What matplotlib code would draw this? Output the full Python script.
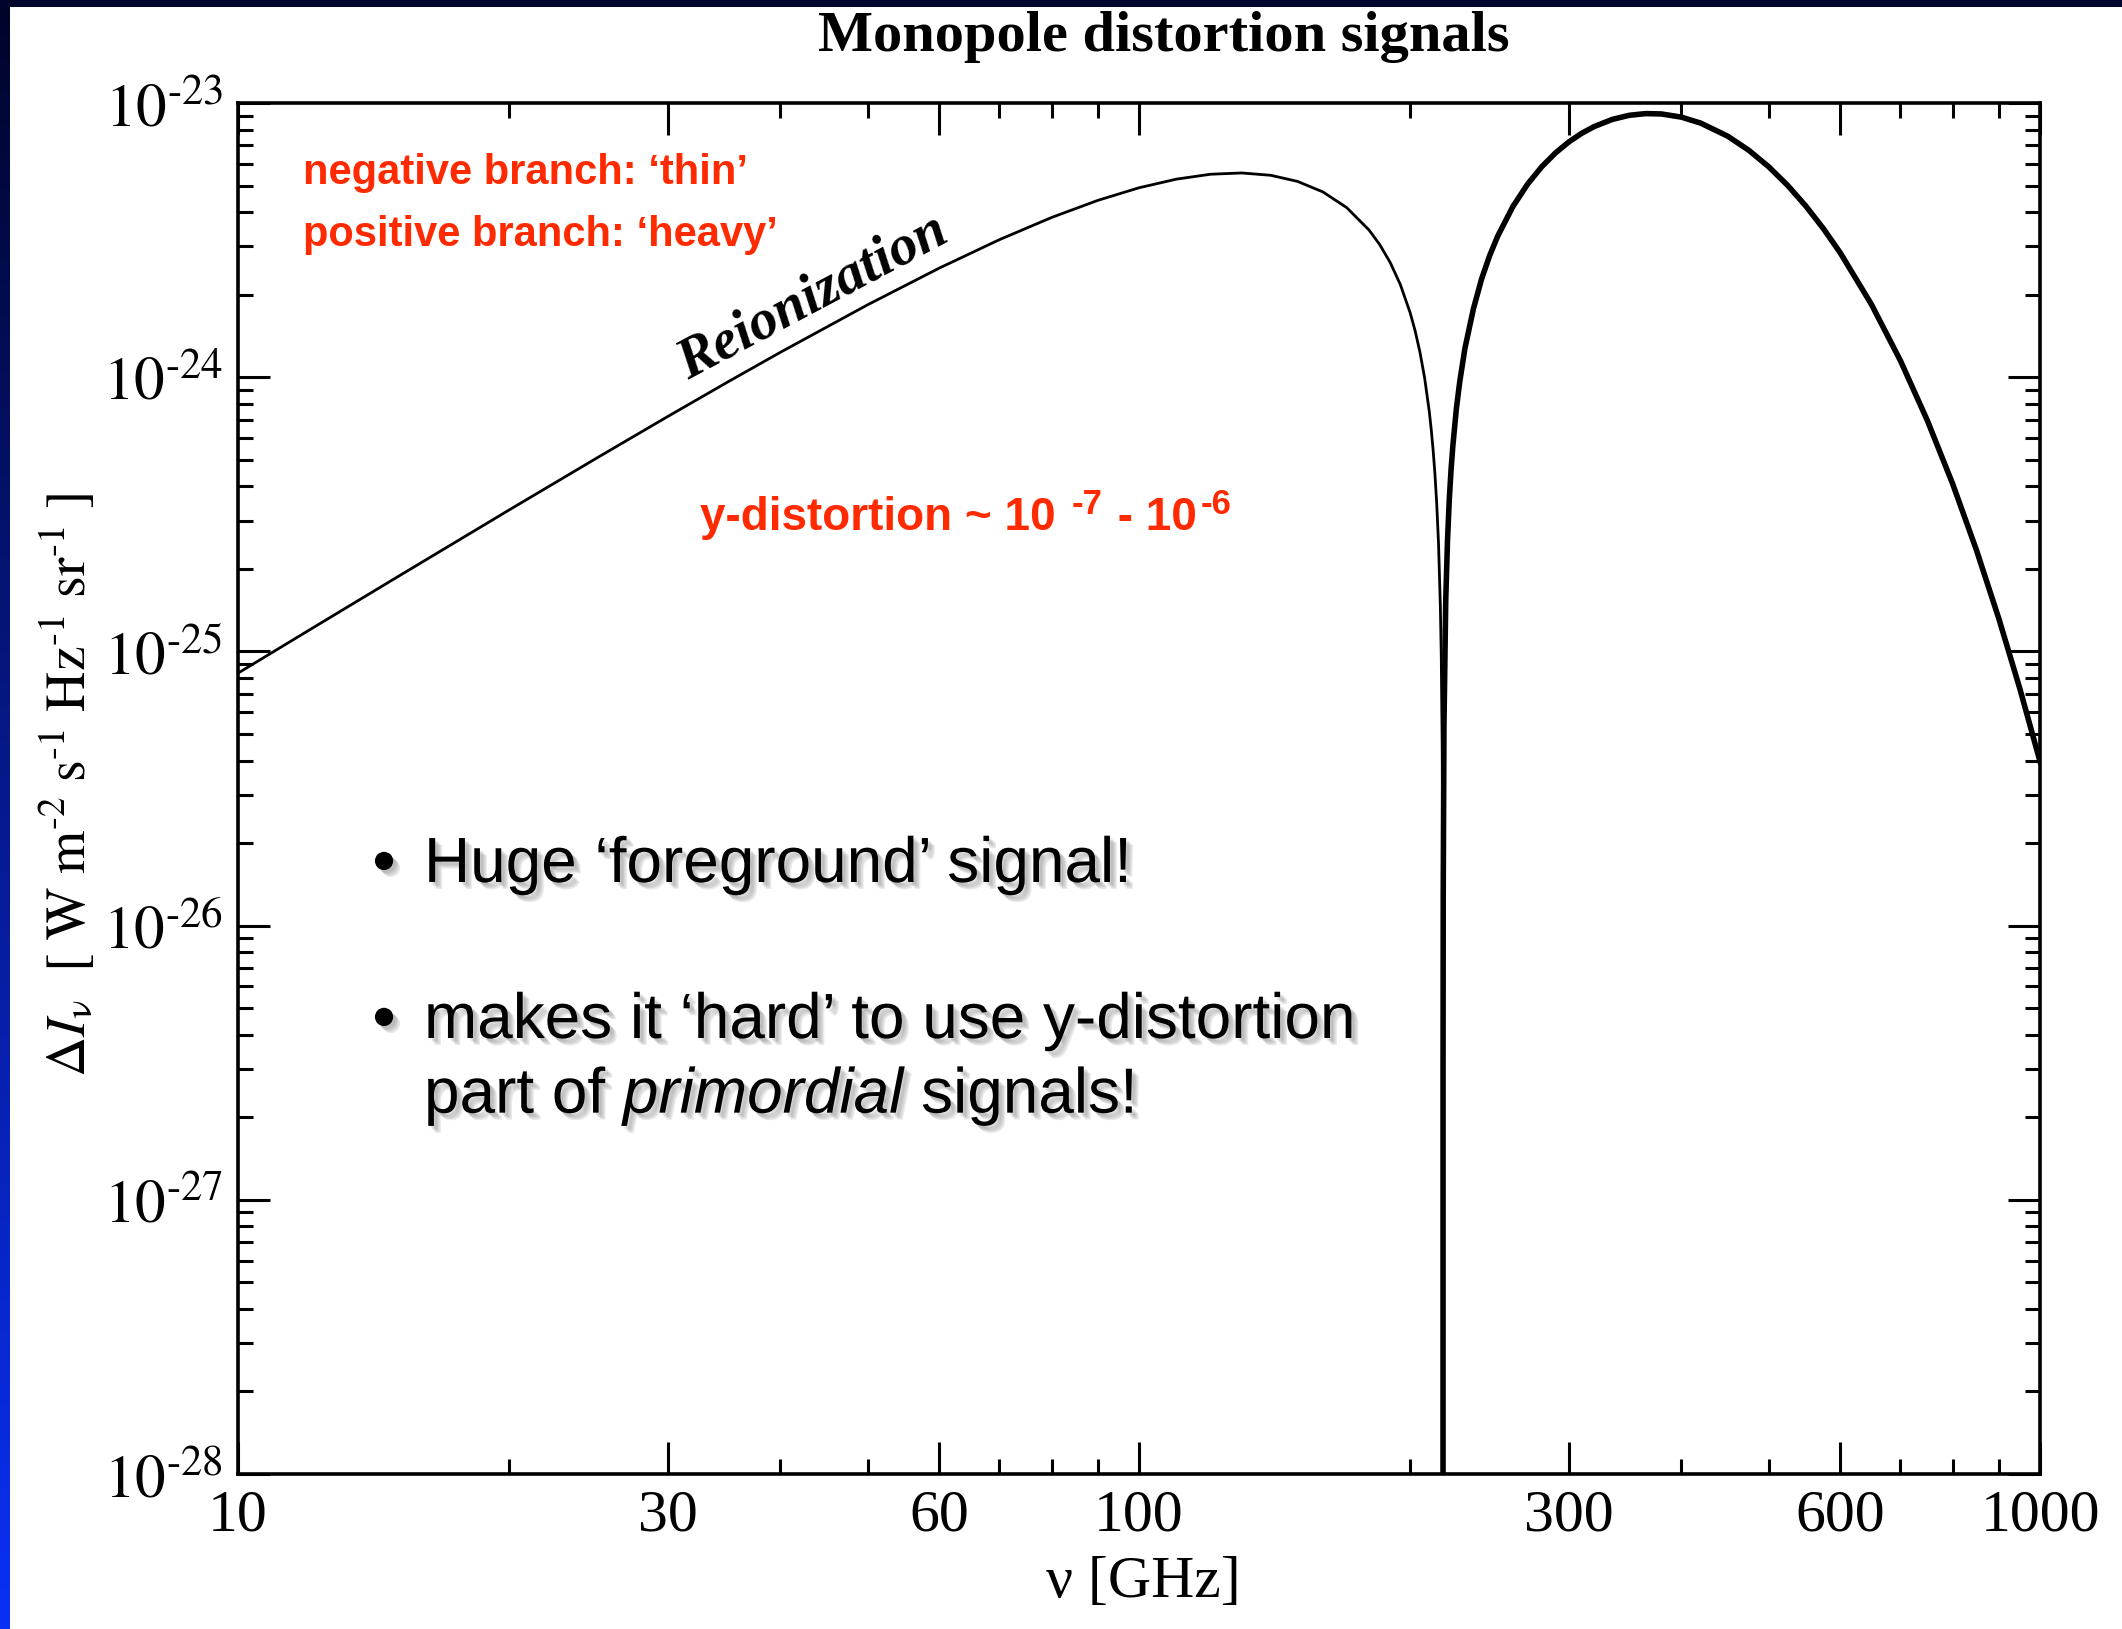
import numpy as np
import matplotlib

matplotlib.use("Agg")
import matplotlib.pyplot as plt
from matplotlib import patheffects
from matplotlib.ticker import FixedLocator, NullFormatter

W, H = 2122, 1629

# |Delta I_nu| of the reionization y-distortion
# negative branch (thin line), nu in GHz, W m^-2 s^-1 Hz^-1 sr^-1
NU_NEG = [10, 12, 15, 20, 25, 30, 35, 40, 50, 60, 70, 80, 90, 100, 110, 120,
          130, 140, 150, 160, 170, 180, 185, 190, 195, 200, 202.5, 205, 207.5,
          210, 211, 212, 213, 214, 215, 216, 216.5, 217, 217.2, 217.4, 217.45,
          217.47]
DI_NEG = [8.33e-26, 1.197e-25, 1.862e-25, 3.281e-25, 5.067e-25, 7.194e-25,
          9.628e-25, 1.233e-24, 1.838e-24, 2.498e-24, 3.174e-24, 3.825e-24,
          4.414e-24, 4.907e-24, 5.275e-24, 5.497e-24, 5.557e-24, 5.450e-24,
          5.175e-24, 4.739e-24, 4.156e-24, 3.443e-24, 3.045e-24, 2.622e-24,
          2.178e-24, 1.715e-24, 1.478e-24, 1.237e-24, 9.938e-25, 7.476e-25,
          6.47e-25, 5.47e-25, 4.47e-25, 3.47e-25, 2.47e-25, 1.47e-25, 9.7e-26,
          4.7e-26, 2.7e-26, 7.0e-27, 2.0e-27, 1.0e-30]
# positive branch (heavy line)
NU_POS = [217.47, 217.5, 217.6, 218, 219, 220, 221, 222, 223, 225, 227, 230,
          235, 240, 245, 250, 260, 270, 280, 290, 300, 310, 320, 335, 350, 365,
          380, 400, 420, 450, 475, 500, 525, 550, 575, 600, 650, 700, 750, 800,
          850, 900, 950, 1000]
DI_POS = [1.0e-30, 3.0e-27, 1.3e-26, 5.3e-26, 1.54e-25, 2.55e-25, 3.59e-25,
          4.6e-25, 5.6e-25, 7.648e-25, 9.65e-25, 1.273e-24, 1.771e-24,
          2.281e-24, 2.775e-24, 3.260e-24, 4.192e-24, 5.064e-24, 5.863e-24,
          6.582e-24, 7.213e-24, 7.754e-24, 8.203e-24, 8.708e-24, 9.017e-24,
          9.149e-24, 9.122e-24, 8.879e-24, 8.450e-24, 7.574e-24, 6.727e-24,
          5.851e-24, 4.997e-24, 4.199e-24, 3.480e-24, 2.847e-24, 1.843e-24,
          1.149e-24, 6.941e-25, 4.081e-25, 2.344e-25, 1.319e-25, 7.294e-26,
          3.969e-26]

X_TICKS = [10, 30, 60, 100, 300, 600, 1000]
X_TICK_LABELS = ["10", "30", "60", "100", "300", "600", "1000"]
X_MINOR = [20, 40, 50, 70, 80, 90, 200, 400, 500, 700, 800, 900]
Y_EXP = [-28, -27, -26, -25, -24, -23]

RED = "#ff2a00"
SERIF = "Liberation Serif"
SANS = "Liberation Sans"

plt.rcParams["mathtext.fontset"] = "stix"
plt.rcParams["mathtext.rm"] = "Liberation Sans"
plt.rcParams["mathtext.it"] = "Liberation Sans:italic"
plt.rcParams["mathtext.bf"] = "Liberation Sans:bold"


def fx(x):
    return x / W


def fy(y):
    return 1 - y / H


fig = plt.figure(figsize=(W / 100, H / 100), dpi=100, facecolor="white")
renderer = fig.canvas.get_renderer()

# slide frame: dark band on top, blue gradient strip on the left
bg = fig.add_axes([0, 0, 1, 1], zorder=-10)
bg.set_xlim(0, W)
bg.set_ylim(H, 0)
bg.axis("off")
top = np.array([0x00, 0x04, 0x2a]) / 255
bot = np.array([0x0a, 0x30, 0xf5]) / 255
t = np.linspace(0, 1, 256)[:, None, None]
grad = top[None, None, :] * (1 - t) + bot[None, None, :] * t
bg.imshow(grad, extent=(0, 10, H, 0), aspect="auto", interpolation="bilinear")
bg.add_patch(plt.Rectangle((0, 0), W, 7, color="#00052c", lw=0))

ax = fig.add_axes([fx(238), fy(1474), fx(2040 - 238), (1474 - 103) / H])
ax.set_xscale("log")
ax.set_yscale("log")
ax.plot(NU_NEG, DI_NEG, color="black", lw=2.0, solid_joinstyle="round")
ax.plot(NU_POS, DI_POS, color="black", lw=4.0, solid_joinstyle="round")
ax.set_xlim(10, 1000)
ax.set_ylim(1e-28, 1e-23)

ax.xaxis.set_major_locator(FixedLocator(X_TICKS))
ax.xaxis.set_minor_locator(FixedLocator(X_MINOR))
ax.set_xticklabels(X_TICK_LABELS, fontfamily=SERIF, fontsize=43)
ax.xaxis.set_minor_formatter(NullFormatter())
ax.yaxis.set_major_locator(FixedLocator([10.0 ** e for e in Y_EXP]))
ax.set_yticklabels([r"$10^{\text{-}%d}$" % -e for e in Y_EXP], fontsize=44)
ax.tick_params(which="both", direction="in", top=True, right=True, width=2.2)
ax.tick_params(which="major", length=23, pad=11)
ax.tick_params(which="minor", length=11)
for s in ax.spines.values():
    s.set_linewidth(2.6)

fig.text(fx(1143), fy(1583), "\u03bd [GHz]", fontfamily=SERIF, fontsize=43,
         ha="center", va="center")
fig.text(fx(68), fy(785),
         r"$\Delta I_{\mathrm{\nu}}\ \ [\ \mathrm{W\ m}^{\text{-}2}\ \mathrm{s}^{\text{-}1}"
         r"\ \mathrm{Hz}^{\text{-}1}\ \mathrm{sr}^{\text{-}1}\ ]$",
         fontsize=40, rotation=90, ha="center", va="center")

fig.text(fx(1164), fy(51), "Monopole distortion signals", fontfamily=SERIF,
         fontweight="bold", fontsize=42, ha="center", va="baseline")

# annotations
fig.text(fx(303), fy(173), "negative branch: \u2018thin\u2019", color=RED,
         fontfamily=SANS, fontweight="bold", fontsize=30, ha="left", va="center")
fig.text(fx(303), fy(235), "positive branch: \u2018heavy\u2019", color=RED,
         fontfamily=SANS, fontweight="bold", fontsize=30, ha="left", va="center")

# y-distortion ~ 10^-7 - 10^-6, written piece by piece (superscripts with hyphens)
x = 700
for piece, size, dy in [("y-distortion ~ 10 ", 33, 0), ("-7", 25, -16),
                        (" - 10", 33, 0), ("-6", 25, -16)]:
    txt = fig.text(fx(x), fy(530 + dy), piece, color=RED, fontfamily=SANS,
                   fontweight="bold", fontsize=size, ha="left", va="baseline")
    x += txt.get_window_extent(renderer).width + 3

fig.text(fx(813), fy(297), "Reionization", fontfamily=SERIF, fontweight="bold",
         style="italic", fontsize=41, rotation=28, ha="center", va="center",
         rotation_mode="anchor")

shadow = [patheffects.SimplePatchShadow(offset=(o, -o), shadow_rgbFace="#888888", alpha=0.18)
          for o in (2, 3, 4, 5)] + [patheffects.Normal()]
for y, bullet, txt in [(865, True, "Huge \u2018foreground\u2019 signal!"),
                       (1021, True, "makes it \u2018hard\u2019 to use y-distortion"),
                       (1096, False, r"part of $\mathit{primordial}$ signals!")]:
    if bullet:
        fig.text(fx(384), fy(y), "\u2022", fontfamily=SANS, fontweight="bold",
                 fontsize=46, ha="center", va="center", path_effects=shadow)
    fig.text(fx(424), fy(y), txt, fontfamily=SANS, fontsize=46,
             math_fontfamily="custom", ha="left", va="center", path_effects=shadow)

fig.savefig("out.png", dpi=100, facecolor="white")
